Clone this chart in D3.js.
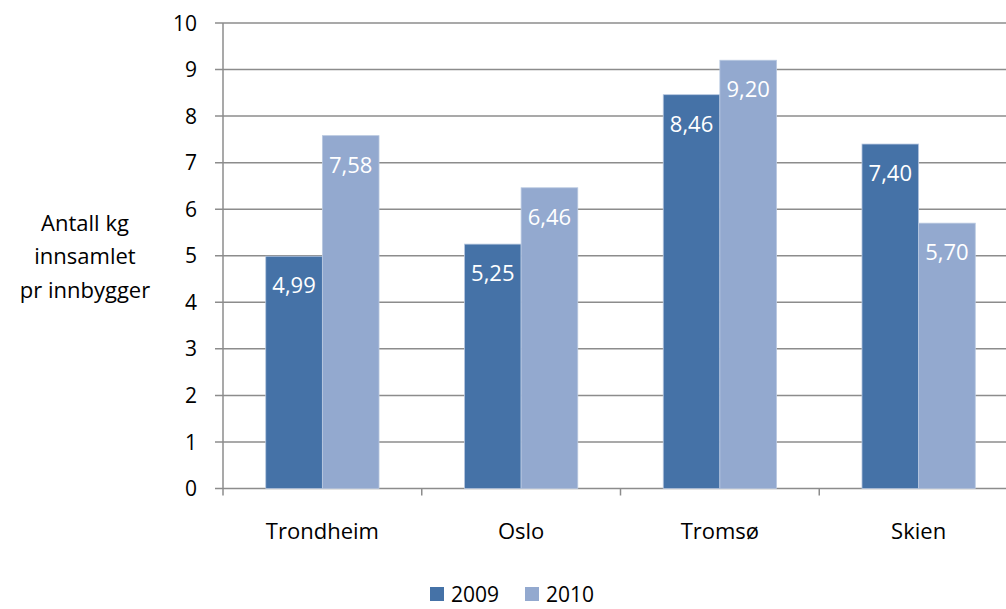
<!DOCTYPE html>
<html>
  <head>
    <style>
    body {
      font-family: "Open Sans", sans-serif;
      margin: 0;
      background: #fff;
    }
    </style>
  </head>
  <body>
    <script src="https://d3js.org/d3.v7.min.js"></script>
    <script>
    var width = 1006, height = 609;

    // data
    var cities = ["Trondheim", "Oslo", "Tromsø", "Skien"];
    var years = ["2009", "2010"];
    var values2009 = [4.99, 5.25, 8.46, 7.40];
    var values2010 = [7.58, 6.46, 9.20, 5.70];
    var yTicks = [0, 1, 2, 3, 4, 5, 6, 7, 8, 9, 10];
    var titleLines = ["Antall kg", "innsamlet", "pr innbygger"];
    var colors = ["#4572a7", "#93a9cf"];

    var svg = d3.select("body").append("svg")
        .attr("width", width)
        .attr("height", height)
        .style("display", "block");

    var plotLeft = 223, plotRight = 1018, plotTop = 23, plotBottom = 488.5;

    var x = d3.scaleBand()
        .domain(cities)
        .range([plotLeft, plotRight])
        .paddingInner(0.43)
        .paddingOuter(0.215);

    var x0 = d3.scaleBand()
        .domain(cities)
        .range([plotLeft, plotRight]);

    var xSub = d3.scaleBand()
        .domain(years)
        .range([0, x.bandwidth()]);

    var y = d3.scaleLinear()
        .domain([0, 10])
        .range([plotBottom, plotTop]);

    // gridlines
    svg.append("g").selectAll("line")
        .data(yTicks)
      .enter().append("line")
        .attr("x1", plotLeft - 8)
        .attr("x2", plotRight)
        .attr("y1", function(d) { return y(d); })
        .attr("y2", function(d) { return y(d); })
        .style("stroke", "#8c8c8c")
        .style("stroke-width", 1.5);

    // y axis labels
    svg.append("g").selectAll("text")
        .data(yTicks)
      .enter().append("text")
        .attr("x", 197)
        .attr("y", function(d) { return y(d); })
        .attr("dy", "0.36em")
        .attr("text-anchor", "end")
        .style("font-size", "21px")
        .style("fill", "#000")
        .text(function(d) { return d; });

    // bars
    var rows = cities.map(function(c, i) {
      return { city: c, vals: [values2009[i], values2010[i]] };
    });

    var groups = svg.append("g").selectAll("g")
        .data(rows)
      .enter().append("g")
        .attr("transform", function(d) { return "translate(" + x(d.city) + ",0)"; });

    var bars = groups.selectAll("g")
        .data(function(d) {
          return years.map(function(yr, j) { return { year: yr, value: d.vals[j], j: j }; });
        })
      .enter().append("g");

    bars.append("rect")
        .attr("x", function(d) { return xSub(d.year); })
        .attr("width", xSub.bandwidth())
        .attr("y", function(d) { return y(d.value); })
        .attr("height", function(d) { return plotBottom - y(d.value); })
        .style("fill", function(d) { return colors[d.j]; })
        .style("stroke", "#b8c8e0")
        .style("stroke-width", 0.8);

    bars.append("text")
        .attr("x", function(d) { return xSub(d.year) + xSub.bandwidth() / 2; })
        .attr("y", function(d) { return y(d.value) + 29; })
        .attr("dy", "0.36em")
        .attr("text-anchor", "middle")
        .style("font-size", "22px")
        .style("fill", "#fff")
        .text(function(d) { return d.value.toFixed(2).replace(".", ","); });

    // axes lines
    svg.append("line")
        .attr("x1", plotLeft).attr("x2", plotLeft)
        .attr("y1", plotTop).attr("y2", plotBottom)
        .style("stroke", "#8c8c8c")
        .style("stroke-width", 1.5);

    svg.append("g").selectAll("line")
        .data(cities)
      .enter().append("line")
        .attr("x1", function(d) { return x0(d); })
        .attr("x2", function(d) { return x0(d); })
        .attr("y1", plotBottom)
        .attr("y2", plotBottom + 7)
        .style("stroke", "#8c8c8c")
        .style("stroke-width", 1.5);

    // category labels
    svg.append("g").selectAll("text")
        .data(cities)
      .enter().append("text")
        .attr("x", function(d) { return x0(d) + x0.bandwidth() / 2; })
        .attr("y", 531)
        .attr("dy", "0.36em")
        .attr("text-anchor", "middle")
        .style("font-size", "22px")
        .text(function(d) { return d; });

    // y title
    svg.append("g").selectAll("text")
        .data(titleLines)
      .enter().append("text")
        .attr("x", 85)
        .attr("y", function(d, i) { return 223 + i * 33.5; })
        .attr("dy", "0.36em")
        .attr("text-anchor", "middle")
        .style("font-size", "22px")
        .text(function(d) { return d; });

    // legend
    var legendX = [430, 525];
    var legend = svg.append("g").selectAll("g")
        .data(years)
      .enter().append("g")
        .attr("transform", function(d, i) { return "translate(" + legendX[i] + ",587)"; });

    legend.append("rect")
        .attr("width", 14)
        .attr("height", 14)
        .style("fill", function(d, i) { return colors[i]; });

    legend.append("text")
        .attr("x", 21)
        .attr("y", 7)
        .attr("dy", "0.36em")
        .style("font-size", "21px")
        .text(function(d) { return d; });
    </script>
  </body>
</html>
